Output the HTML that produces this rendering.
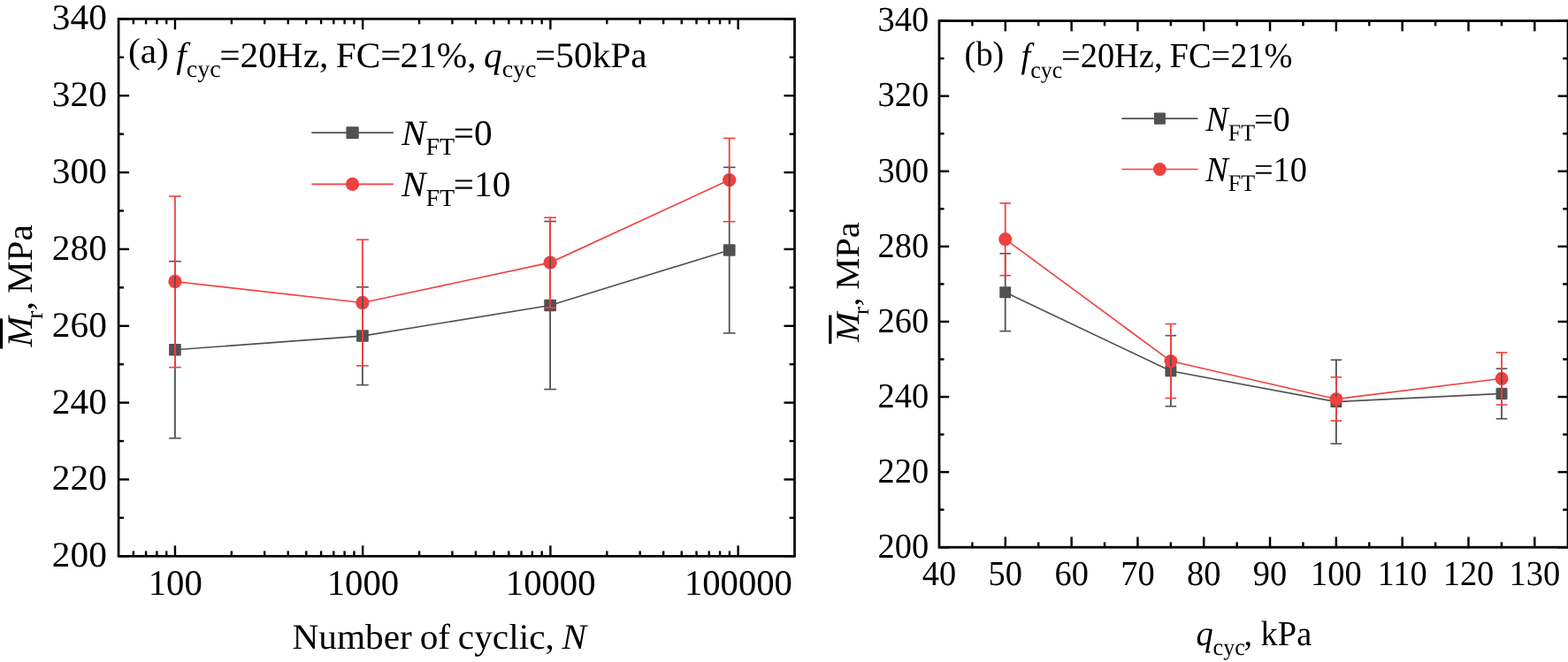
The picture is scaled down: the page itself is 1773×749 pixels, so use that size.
<!DOCTYPE html>
<html lang="en">
<head>
<meta charset="utf-8">
<title>Resilient modulus charts</title>
<style>
html,body{margin:0;padding:0;background:#fff;}
body{width:1773px;height:749px;overflow:hidden;}
svg{display:block;}
text{font-family:'Liberation Serif', serif;fill:#000;white-space:pre;text-rendering:geometricPrecision;}
</style>
</head>
<body>
<svg width="1773" height="749" viewBox="0 0 1773 749">
<rect width="1773" height="749" fill="#fff"/>
<polyline fill="none" stroke="#515151" stroke-width="1.65" points="197.90,395.75 409.90,380.10 622.10,345.50 824.70,283.00"/>
<rect x="191.05" y="389.00" width="13.70" height="13.50" rx="0.8" fill="#515151"/>
<rect x="403.05" y="373.35" width="13.70" height="13.50" rx="0.8" fill="#515151"/>
<rect x="615.25" y="338.75" width="13.70" height="13.50" rx="0.8" fill="#515151"/>
<rect x="817.85" y="276.25" width="13.70" height="13.50" rx="0.8" fill="#515151"/>
<polyline fill="none" stroke="#F14040" stroke-width="1.65" points="197.90,318.50 409.90,342.50 622.10,297.10 824.70,203.60"/>
<ellipse cx="197.90" cy="318.50" rx="7.65" ry="7.65" fill="#F14040"/>
<ellipse cx="409.90" cy="342.50" rx="7.65" ry="7.65" fill="#F14040"/>
<ellipse cx="622.10" cy="297.10" rx="7.65" ry="7.65" fill="#F14040"/>
<ellipse cx="824.70" cy="203.60" rx="7.65" ry="7.65" fill="#F14040"/>
<line x1="197.90" y1="295.70" x2="197.90" y2="390.00" stroke="#515151" stroke-width="1.8" stroke-linecap="butt"/>
<line x1="197.90" y1="401.50" x2="197.90" y2="495.80" stroke="#515151" stroke-width="1.8" stroke-linecap="butt"/>
<line x1="191.05" y1="295.70" x2="204.75" y2="295.70" stroke="#515151" stroke-width="1.6" stroke-linecap="butt"/>
<line x1="191.05" y1="495.80" x2="204.75" y2="495.80" stroke="#515151" stroke-width="1.6" stroke-linecap="butt"/>
<line x1="409.90" y1="324.80" x2="409.90" y2="374.35" stroke="#515151" stroke-width="1.8" stroke-linecap="butt"/>
<line x1="409.90" y1="385.85" x2="409.90" y2="435.60" stroke="#515151" stroke-width="1.8" stroke-linecap="butt"/>
<line x1="403.05" y1="324.80" x2="416.75" y2="324.80" stroke="#515151" stroke-width="1.6" stroke-linecap="butt"/>
<line x1="403.05" y1="435.60" x2="416.75" y2="435.60" stroke="#515151" stroke-width="1.6" stroke-linecap="butt"/>
<line x1="622.10" y1="250.50" x2="622.10" y2="339.75" stroke="#515151" stroke-width="1.8" stroke-linecap="butt"/>
<line x1="622.10" y1="351.25" x2="622.10" y2="440.50" stroke="#515151" stroke-width="1.8" stroke-linecap="butt"/>
<line x1="615.25" y1="250.50" x2="628.95" y2="250.50" stroke="#515151" stroke-width="1.6" stroke-linecap="butt"/>
<line x1="615.25" y1="440.50" x2="628.95" y2="440.50" stroke="#515151" stroke-width="1.6" stroke-linecap="butt"/>
<line x1="824.70" y1="189.30" x2="824.70" y2="277.25" stroke="#515151" stroke-width="1.8" stroke-linecap="butt"/>
<line x1="824.70" y1="288.75" x2="824.70" y2="376.90" stroke="#515151" stroke-width="1.8" stroke-linecap="butt"/>
<line x1="817.85" y1="189.30" x2="831.55" y2="189.30" stroke="#515151" stroke-width="1.6" stroke-linecap="butt"/>
<line x1="817.85" y1="376.90" x2="831.55" y2="376.90" stroke="#515151" stroke-width="1.6" stroke-linecap="butt"/>
<line x1="197.90" y1="222.00" x2="197.90" y2="311.85" stroke="#F14040" stroke-width="1.8" stroke-linecap="butt"/>
<line x1="197.90" y1="325.15" x2="197.90" y2="415.60" stroke="#F14040" stroke-width="1.8" stroke-linecap="butt"/>
<line x1="191.05" y1="222.00" x2="204.75" y2="222.00" stroke="#F14040" stroke-width="1.6" stroke-linecap="butt"/>
<line x1="191.05" y1="415.60" x2="204.75" y2="415.60" stroke="#F14040" stroke-width="1.6" stroke-linecap="butt"/>
<line x1="409.90" y1="271.20" x2="409.90" y2="335.85" stroke="#F14040" stroke-width="1.8" stroke-linecap="butt"/>
<line x1="409.90" y1="349.15" x2="409.90" y2="413.80" stroke="#F14040" stroke-width="1.8" stroke-linecap="butt"/>
<line x1="403.05" y1="271.20" x2="416.75" y2="271.20" stroke="#F14040" stroke-width="1.6" stroke-linecap="butt"/>
<line x1="403.05" y1="413.80" x2="416.75" y2="413.80" stroke="#F14040" stroke-width="1.6" stroke-linecap="butt"/>
<line x1="622.10" y1="246.20" x2="622.10" y2="290.45" stroke="#F14040" stroke-width="1.8" stroke-linecap="butt"/>
<line x1="622.10" y1="303.75" x2="622.10" y2="348.20" stroke="#F14040" stroke-width="1.8" stroke-linecap="butt"/>
<line x1="615.25" y1="246.20" x2="628.95" y2="246.20" stroke="#F14040" stroke-width="1.6" stroke-linecap="butt"/>
<line x1="615.25" y1="348.20" x2="628.95" y2="348.20" stroke="#F14040" stroke-width="1.6" stroke-linecap="butt"/>
<line x1="824.70" y1="156.40" x2="824.70" y2="196.95" stroke="#F14040" stroke-width="1.8" stroke-linecap="butt"/>
<line x1="824.70" y1="210.25" x2="824.70" y2="250.70" stroke="#F14040" stroke-width="1.8" stroke-linecap="butt"/>
<line x1="817.85" y1="156.40" x2="831.55" y2="156.40" stroke="#F14040" stroke-width="1.6" stroke-linecap="butt"/>
<line x1="817.85" y1="250.70" x2="831.55" y2="250.70" stroke="#F14040" stroke-width="1.6" stroke-linecap="butt"/>
<line x1="134.05" y1="629.30" x2="146.05" y2="629.30" stroke="#000" stroke-width="2.4" stroke-linecap="butt"/>
<line x1="898.50" y1="629.30" x2="886.50" y2="629.30" stroke="#000" stroke-width="2.4" stroke-linecap="butt"/>
<line x1="134.05" y1="585.88" x2="139.95" y2="585.88" stroke="#000" stroke-width="2.4" stroke-linecap="butt"/>
<line x1="898.50" y1="585.88" x2="892.60" y2="585.88" stroke="#000" stroke-width="2.4" stroke-linecap="butt"/>
<line x1="134.05" y1="542.46" x2="146.05" y2="542.46" stroke="#000" stroke-width="2.4" stroke-linecap="butt"/>
<line x1="898.50" y1="542.46" x2="886.50" y2="542.46" stroke="#000" stroke-width="2.4" stroke-linecap="butt"/>
<line x1="134.05" y1="499.04" x2="139.95" y2="499.04" stroke="#000" stroke-width="2.4" stroke-linecap="butt"/>
<line x1="898.50" y1="499.04" x2="892.60" y2="499.04" stroke="#000" stroke-width="2.4" stroke-linecap="butt"/>
<line x1="134.05" y1="455.61" x2="146.05" y2="455.61" stroke="#000" stroke-width="2.4" stroke-linecap="butt"/>
<line x1="898.50" y1="455.61" x2="886.50" y2="455.61" stroke="#000" stroke-width="2.4" stroke-linecap="butt"/>
<line x1="134.05" y1="412.19" x2="139.95" y2="412.19" stroke="#000" stroke-width="2.4" stroke-linecap="butt"/>
<line x1="898.50" y1="412.19" x2="892.60" y2="412.19" stroke="#000" stroke-width="2.4" stroke-linecap="butt"/>
<line x1="134.05" y1="368.77" x2="146.05" y2="368.77" stroke="#000" stroke-width="2.4" stroke-linecap="butt"/>
<line x1="898.50" y1="368.77" x2="886.50" y2="368.77" stroke="#000" stroke-width="2.4" stroke-linecap="butt"/>
<line x1="134.05" y1="325.35" x2="139.95" y2="325.35" stroke="#000" stroke-width="2.4" stroke-linecap="butt"/>
<line x1="898.50" y1="325.35" x2="892.60" y2="325.35" stroke="#000" stroke-width="2.4" stroke-linecap="butt"/>
<line x1="134.05" y1="281.93" x2="146.05" y2="281.93" stroke="#000" stroke-width="2.4" stroke-linecap="butt"/>
<line x1="898.50" y1="281.93" x2="886.50" y2="281.93" stroke="#000" stroke-width="2.4" stroke-linecap="butt"/>
<line x1="134.05" y1="238.51" x2="139.95" y2="238.51" stroke="#000" stroke-width="2.4" stroke-linecap="butt"/>
<line x1="898.50" y1="238.51" x2="892.60" y2="238.51" stroke="#000" stroke-width="2.4" stroke-linecap="butt"/>
<line x1="134.05" y1="195.09" x2="146.05" y2="195.09" stroke="#000" stroke-width="2.4" stroke-linecap="butt"/>
<line x1="898.50" y1="195.09" x2="886.50" y2="195.09" stroke="#000" stroke-width="2.4" stroke-linecap="butt"/>
<line x1="134.05" y1="151.66" x2="139.95" y2="151.66" stroke="#000" stroke-width="2.4" stroke-linecap="butt"/>
<line x1="898.50" y1="151.66" x2="892.60" y2="151.66" stroke="#000" stroke-width="2.4" stroke-linecap="butt"/>
<line x1="134.05" y1="108.24" x2="146.05" y2="108.24" stroke="#000" stroke-width="2.4" stroke-linecap="butt"/>
<line x1="898.50" y1="108.24" x2="886.50" y2="108.24" stroke="#000" stroke-width="2.4" stroke-linecap="butt"/>
<line x1="134.05" y1="64.82" x2="139.95" y2="64.82" stroke="#000" stroke-width="2.4" stroke-linecap="butt"/>
<line x1="898.50" y1="64.82" x2="892.60" y2="64.82" stroke="#000" stroke-width="2.4" stroke-linecap="butt"/>
<line x1="134.05" y1="21.40" x2="146.05" y2="21.40" stroke="#000" stroke-width="2.4" stroke-linecap="butt"/>
<line x1="898.50" y1="21.40" x2="886.50" y2="21.40" stroke="#000" stroke-width="2.4" stroke-linecap="butt"/>
<line x1="150.85" y1="629.30" x2="150.85" y2="623.40" stroke="#000" stroke-width="2.4" stroke-linecap="butt"/>
<line x1="150.85" y1="21.40" x2="150.85" y2="27.30" stroke="#000" stroke-width="2.4" stroke-linecap="butt"/>
<line x1="165.06" y1="629.30" x2="165.06" y2="623.40" stroke="#000" stroke-width="2.4" stroke-linecap="butt"/>
<line x1="165.06" y1="21.40" x2="165.06" y2="27.30" stroke="#000" stroke-width="2.4" stroke-linecap="butt"/>
<line x1="177.37" y1="629.30" x2="177.37" y2="623.40" stroke="#000" stroke-width="2.4" stroke-linecap="butt"/>
<line x1="177.37" y1="21.40" x2="177.37" y2="27.30" stroke="#000" stroke-width="2.4" stroke-linecap="butt"/>
<line x1="188.23" y1="629.30" x2="188.23" y2="623.40" stroke="#000" stroke-width="2.4" stroke-linecap="butt"/>
<line x1="188.23" y1="21.40" x2="188.23" y2="27.30" stroke="#000" stroke-width="2.4" stroke-linecap="butt"/>
<line x1="197.94" y1="629.30" x2="197.94" y2="617.30" stroke="#000" stroke-width="2.4" stroke-linecap="butt"/>
<line x1="197.94" y1="21.40" x2="197.94" y2="33.40" stroke="#000" stroke-width="2.4" stroke-linecap="butt"/>
<line x1="261.82" y1="629.30" x2="261.82" y2="623.40" stroke="#000" stroke-width="2.4" stroke-linecap="butt"/>
<line x1="261.82" y1="21.40" x2="261.82" y2="27.30" stroke="#000" stroke-width="2.4" stroke-linecap="butt"/>
<line x1="299.19" y1="629.30" x2="299.19" y2="623.40" stroke="#000" stroke-width="2.4" stroke-linecap="butt"/>
<line x1="299.19" y1="21.40" x2="299.19" y2="27.30" stroke="#000" stroke-width="2.4" stroke-linecap="butt"/>
<line x1="325.71" y1="629.30" x2="325.71" y2="623.40" stroke="#000" stroke-width="2.4" stroke-linecap="butt"/>
<line x1="325.71" y1="21.40" x2="325.71" y2="27.30" stroke="#000" stroke-width="2.4" stroke-linecap="butt"/>
<line x1="346.28" y1="629.30" x2="346.28" y2="623.40" stroke="#000" stroke-width="2.4" stroke-linecap="butt"/>
<line x1="346.28" y1="21.40" x2="346.28" y2="27.30" stroke="#000" stroke-width="2.4" stroke-linecap="butt"/>
<line x1="363.08" y1="629.30" x2="363.08" y2="623.40" stroke="#000" stroke-width="2.4" stroke-linecap="butt"/>
<line x1="363.08" y1="21.40" x2="363.08" y2="27.30" stroke="#000" stroke-width="2.4" stroke-linecap="butt"/>
<line x1="377.29" y1="629.30" x2="377.29" y2="623.40" stroke="#000" stroke-width="2.4" stroke-linecap="butt"/>
<line x1="377.29" y1="21.40" x2="377.29" y2="27.30" stroke="#000" stroke-width="2.4" stroke-linecap="butt"/>
<line x1="389.60" y1="629.30" x2="389.60" y2="623.40" stroke="#000" stroke-width="2.4" stroke-linecap="butt"/>
<line x1="389.60" y1="21.40" x2="389.60" y2="27.30" stroke="#000" stroke-width="2.4" stroke-linecap="butt"/>
<line x1="400.45" y1="629.30" x2="400.45" y2="623.40" stroke="#000" stroke-width="2.4" stroke-linecap="butt"/>
<line x1="400.45" y1="21.40" x2="400.45" y2="27.30" stroke="#000" stroke-width="2.4" stroke-linecap="butt"/>
<line x1="410.16" y1="629.30" x2="410.16" y2="617.30" stroke="#000" stroke-width="2.4" stroke-linecap="butt"/>
<line x1="410.16" y1="21.40" x2="410.16" y2="33.40" stroke="#000" stroke-width="2.4" stroke-linecap="butt"/>
<line x1="474.05" y1="629.30" x2="474.05" y2="623.40" stroke="#000" stroke-width="2.4" stroke-linecap="butt"/>
<line x1="474.05" y1="21.40" x2="474.05" y2="27.30" stroke="#000" stroke-width="2.4" stroke-linecap="butt"/>
<line x1="511.42" y1="629.30" x2="511.42" y2="623.40" stroke="#000" stroke-width="2.4" stroke-linecap="butt"/>
<line x1="511.42" y1="21.40" x2="511.42" y2="27.30" stroke="#000" stroke-width="2.4" stroke-linecap="butt"/>
<line x1="537.93" y1="629.30" x2="537.93" y2="623.40" stroke="#000" stroke-width="2.4" stroke-linecap="butt"/>
<line x1="537.93" y1="21.40" x2="537.93" y2="27.30" stroke="#000" stroke-width="2.4" stroke-linecap="butt"/>
<line x1="558.50" y1="629.30" x2="558.50" y2="623.40" stroke="#000" stroke-width="2.4" stroke-linecap="butt"/>
<line x1="558.50" y1="21.40" x2="558.50" y2="27.30" stroke="#000" stroke-width="2.4" stroke-linecap="butt"/>
<line x1="575.31" y1="629.30" x2="575.31" y2="623.40" stroke="#000" stroke-width="2.4" stroke-linecap="butt"/>
<line x1="575.31" y1="21.40" x2="575.31" y2="27.30" stroke="#000" stroke-width="2.4" stroke-linecap="butt"/>
<line x1="589.51" y1="629.30" x2="589.51" y2="623.40" stroke="#000" stroke-width="2.4" stroke-linecap="butt"/>
<line x1="589.51" y1="21.40" x2="589.51" y2="27.30" stroke="#000" stroke-width="2.4" stroke-linecap="butt"/>
<line x1="601.82" y1="629.30" x2="601.82" y2="623.40" stroke="#000" stroke-width="2.4" stroke-linecap="butt"/>
<line x1="601.82" y1="21.40" x2="601.82" y2="27.30" stroke="#000" stroke-width="2.4" stroke-linecap="butt"/>
<line x1="612.68" y1="629.30" x2="612.68" y2="623.40" stroke="#000" stroke-width="2.4" stroke-linecap="butt"/>
<line x1="612.68" y1="21.40" x2="612.68" y2="27.30" stroke="#000" stroke-width="2.4" stroke-linecap="butt"/>
<line x1="622.39" y1="629.30" x2="622.39" y2="617.30" stroke="#000" stroke-width="2.4" stroke-linecap="butt"/>
<line x1="622.39" y1="21.40" x2="622.39" y2="33.40" stroke="#000" stroke-width="2.4" stroke-linecap="butt"/>
<line x1="686.27" y1="629.30" x2="686.27" y2="623.40" stroke="#000" stroke-width="2.4" stroke-linecap="butt"/>
<line x1="686.27" y1="21.40" x2="686.27" y2="27.30" stroke="#000" stroke-width="2.4" stroke-linecap="butt"/>
<line x1="723.65" y1="629.30" x2="723.65" y2="623.40" stroke="#000" stroke-width="2.4" stroke-linecap="butt"/>
<line x1="723.65" y1="21.40" x2="723.65" y2="27.30" stroke="#000" stroke-width="2.4" stroke-linecap="butt"/>
<line x1="750.16" y1="629.30" x2="750.16" y2="623.40" stroke="#000" stroke-width="2.4" stroke-linecap="butt"/>
<line x1="750.16" y1="21.40" x2="750.16" y2="27.30" stroke="#000" stroke-width="2.4" stroke-linecap="butt"/>
<line x1="770.73" y1="629.30" x2="770.73" y2="623.40" stroke="#000" stroke-width="2.4" stroke-linecap="butt"/>
<line x1="770.73" y1="21.40" x2="770.73" y2="27.30" stroke="#000" stroke-width="2.4" stroke-linecap="butt"/>
<line x1="787.53" y1="629.30" x2="787.53" y2="623.40" stroke="#000" stroke-width="2.4" stroke-linecap="butt"/>
<line x1="787.53" y1="21.40" x2="787.53" y2="27.30" stroke="#000" stroke-width="2.4" stroke-linecap="butt"/>
<line x1="801.74" y1="629.30" x2="801.74" y2="623.40" stroke="#000" stroke-width="2.4" stroke-linecap="butt"/>
<line x1="801.74" y1="21.40" x2="801.74" y2="27.30" stroke="#000" stroke-width="2.4" stroke-linecap="butt"/>
<line x1="814.05" y1="629.30" x2="814.05" y2="623.40" stroke="#000" stroke-width="2.4" stroke-linecap="butt"/>
<line x1="814.05" y1="21.40" x2="814.05" y2="27.30" stroke="#000" stroke-width="2.4" stroke-linecap="butt"/>
<line x1="824.90" y1="629.30" x2="824.90" y2="623.40" stroke="#000" stroke-width="2.4" stroke-linecap="butt"/>
<line x1="824.90" y1="21.40" x2="824.90" y2="27.30" stroke="#000" stroke-width="2.4" stroke-linecap="butt"/>
<line x1="834.61" y1="629.30" x2="834.61" y2="617.30" stroke="#000" stroke-width="2.4" stroke-linecap="butt"/>
<line x1="834.61" y1="21.40" x2="834.61" y2="33.40" stroke="#000" stroke-width="2.4" stroke-linecap="butt"/>
<rect x="134.05" y="21.40" width="764.45" height="607.90" fill="none" stroke="#000" stroke-width="2.7"/>
<text transform="translate(120.80,641.30) scale(1.0000,0.9800)" font-size="41.3" text-anchor="end">200</text>
<text transform="translate(120.80,554.46) scale(1.0000,0.9800)" font-size="41.3" text-anchor="end">220</text>
<text transform="translate(120.80,467.61) scale(1.0000,0.9800)" font-size="41.3" text-anchor="end">240</text>
<text transform="translate(120.80,380.77) scale(1.0000,0.9800)" font-size="41.3" text-anchor="end">260</text>
<text transform="translate(120.80,293.93) scale(1.0000,0.9800)" font-size="41.3" text-anchor="end">280</text>
<text transform="translate(120.80,207.09) scale(1.0000,0.9800)" font-size="41.3" text-anchor="end">300</text>
<text transform="translate(120.80,120.24) scale(1.0000,0.9800)" font-size="41.3" text-anchor="end">320</text>
<text transform="translate(120.80,33.40) scale(1.0000,0.9800)" font-size="41.3" text-anchor="end">340</text>
<text transform="translate(198.24,673.10) scale(0.9850,0.9800)" font-size="41.3" text-anchor="middle">100</text>
<text transform="translate(410.46,673.10) scale(0.9850,0.9800)" font-size="41.3" text-anchor="middle">1000</text>
<text transform="translate(622.69,673.10) scale(0.9850,0.9800)" font-size="41.3" text-anchor="middle">10000</text>
<text transform="translate(834.91,673.10) scale(0.9850,0.9800)" font-size="41.3" text-anchor="middle">100000</text>
<text transform="translate(145.00,75.80) scale(1.0000,0.9800)" font-size="41.3" text-anchor="start" word-spacing="-1.9"><tspan dy="-5.00">(a)</tspan><tspan dy="5.00"> </tspan><tspan font-style="italic">f</tspan><tspan font-size="28.0" dy="11.80">cyc</tspan><tspan dy="-11.80" dx="-1.4">=20Hz, FC=</tspan><tspan dx="-1.0">21%, </tspan><tspan font-style="italic">q</tspan><tspan font-size="28.0" dy="11.80">cyc</tspan><tspan dy="-11.80" dx="-1.4">=50kPa</tspan></text>
<text transform="translate(330.50,734.10) scale(1.0000,0.9800)" font-size="41.3" text-anchor="start" word-spacing="-1.5">Number of cyclic, <tspan font-style="italic">N</tspan></text>
<text transform="translate(36.45,392.50) rotate(-90) scale(1.0000,0.9800)" font-size="41.3" text-anchor="start" word-spacing="-1.6"><tspan font-style="italic">M</tspan><tspan font-size="28.0" dy="11.80" dx="-3">r</tspan><tspan dy="-11.80" dx="0.6">, MPa</tspan></text>
<text transform="translate(454.00,163.60) scale(1.0000,0.9800)" font-size="41.3" text-anchor="start"><tspan font-style="italic">N</tspan><tspan font-size="28.0" dy="11.80">FT</tspan><tspan dy="-11.80" dx="-1.4">=0</tspan></text>
<text transform="translate(454.00,221.90) scale(1.0000,0.9800)" font-size="41.3" text-anchor="start"><tspan font-style="italic">N</tspan><tspan font-size="28.0" dy="11.80">FT</tspan><tspan dy="-11.80" dx="-1.4">=10</tspan></text>
<line x1="352.30" y1="150.15" x2="444.90" y2="150.15" stroke="#515151" stroke-width="1.65" stroke-linecap="butt"/>
<rect x="391.40" y="143.25" width="14.30" height="13.80" rx="0.8" fill="#515151"/>
<line x1="352.30" y1="208.40" x2="444.90" y2="208.40" stroke="#F14040" stroke-width="1.65" stroke-linecap="butt"/>
<ellipse cx="398.55" cy="208.40" rx="7.65" ry="7.65" fill="#F14040"/>
<rect x="-0.20" y="360.40" width="3.30" height="34.10" fill="#000"/>
<polyline fill="none" stroke="#515151" stroke-width="1.65" points="1136.70,330.70 1323.90,419.75 1510.90,454.55 1698.00,445.40"/>
<rect x="1130.25" y="324.15" width="12.90" height="13.10" rx="0.8" fill="#515151"/>
<rect x="1317.45" y="413.20" width="12.90" height="13.10" rx="0.8" fill="#515151"/>
<rect x="1504.45" y="448.00" width="12.90" height="13.10" rx="0.8" fill="#515151"/>
<rect x="1691.55" y="438.85" width="12.90" height="13.10" rx="0.8" fill="#515151"/>
<polyline fill="none" stroke="#F14040" stroke-width="1.65" points="1136.70,270.70 1323.90,408.55 1510.90,451.50 1698.00,428.30"/>
<ellipse cx="1136.70" cy="270.70" rx="7.45" ry="7.60" fill="#F14040"/>
<ellipse cx="1323.90" cy="408.55" rx="7.45" ry="7.60" fill="#F14040"/>
<ellipse cx="1510.90" cy="451.50" rx="7.45" ry="7.60" fill="#F14040"/>
<ellipse cx="1698.00" cy="428.30" rx="7.45" ry="7.60" fill="#F14040"/>
<line x1="1136.70" y1="286.85" x2="1136.70" y2="325.15" stroke="#515151" stroke-width="1.8" stroke-linecap="butt"/>
<line x1="1136.70" y1="336.25" x2="1136.70" y2="374.65" stroke="#515151" stroke-width="1.8" stroke-linecap="butt"/>
<line x1="1130.40" y1="286.85" x2="1143.00" y2="286.85" stroke="#515151" stroke-width="1.6" stroke-linecap="butt"/>
<line x1="1130.40" y1="374.65" x2="1143.00" y2="374.65" stroke="#515151" stroke-width="1.6" stroke-linecap="butt"/>
<line x1="1323.90" y1="379.70" x2="1323.90" y2="414.20" stroke="#515151" stroke-width="1.8" stroke-linecap="butt"/>
<line x1="1323.90" y1="425.30" x2="1323.90" y2="459.70" stroke="#515151" stroke-width="1.8" stroke-linecap="butt"/>
<line x1="1317.60" y1="379.70" x2="1330.20" y2="379.70" stroke="#515151" stroke-width="1.6" stroke-linecap="butt"/>
<line x1="1317.60" y1="459.70" x2="1330.20" y2="459.70" stroke="#515151" stroke-width="1.6" stroke-linecap="butt"/>
<line x1="1510.90" y1="407.20" x2="1510.90" y2="449.00" stroke="#515151" stroke-width="1.8" stroke-linecap="butt"/>
<line x1="1510.90" y1="460.10" x2="1510.90" y2="502.00" stroke="#515151" stroke-width="1.8" stroke-linecap="butt"/>
<line x1="1504.60" y1="407.20" x2="1517.20" y2="407.20" stroke="#515151" stroke-width="1.6" stroke-linecap="butt"/>
<line x1="1504.60" y1="502.00" x2="1517.20" y2="502.00" stroke="#515151" stroke-width="1.6" stroke-linecap="butt"/>
<line x1="1698.00" y1="417.10" x2="1698.00" y2="439.85" stroke="#515151" stroke-width="1.8" stroke-linecap="butt"/>
<line x1="1698.00" y1="450.95" x2="1698.00" y2="473.80" stroke="#515151" stroke-width="1.8" stroke-linecap="butt"/>
<line x1="1691.70" y1="417.10" x2="1704.30" y2="417.10" stroke="#515151" stroke-width="1.6" stroke-linecap="butt"/>
<line x1="1691.70" y1="473.80" x2="1704.30" y2="473.80" stroke="#515151" stroke-width="1.6" stroke-linecap="butt"/>
<line x1="1136.70" y1="229.90" x2="1136.70" y2="264.10" stroke="#F14040" stroke-width="1.8" stroke-linecap="butt"/>
<line x1="1136.70" y1="277.30" x2="1136.70" y2="311.70" stroke="#F14040" stroke-width="1.8" stroke-linecap="butt"/>
<line x1="1130.40" y1="229.90" x2="1143.00" y2="229.90" stroke="#F14040" stroke-width="1.6" stroke-linecap="butt"/>
<line x1="1130.40" y1="311.70" x2="1143.00" y2="311.70" stroke="#F14040" stroke-width="1.6" stroke-linecap="butt"/>
<line x1="1323.90" y1="366.50" x2="1323.90" y2="401.95" stroke="#F14040" stroke-width="1.8" stroke-linecap="butt"/>
<line x1="1323.90" y1="415.15" x2="1323.90" y2="450.50" stroke="#F14040" stroke-width="1.8" stroke-linecap="butt"/>
<line x1="1317.60" y1="366.50" x2="1330.20" y2="366.50" stroke="#F14040" stroke-width="1.6" stroke-linecap="butt"/>
<line x1="1317.60" y1="450.50" x2="1330.20" y2="450.50" stroke="#F14040" stroke-width="1.6" stroke-linecap="butt"/>
<line x1="1510.90" y1="426.70" x2="1510.90" y2="444.90" stroke="#F14040" stroke-width="1.8" stroke-linecap="butt"/>
<line x1="1510.90" y1="458.10" x2="1510.90" y2="476.15" stroke="#F14040" stroke-width="1.8" stroke-linecap="butt"/>
<line x1="1504.60" y1="426.70" x2="1517.20" y2="426.70" stroke="#F14040" stroke-width="1.6" stroke-linecap="butt"/>
<line x1="1504.60" y1="476.15" x2="1517.20" y2="476.15" stroke="#F14040" stroke-width="1.6" stroke-linecap="butt"/>
<line x1="1698.00" y1="398.90" x2="1698.00" y2="421.70" stroke="#F14040" stroke-width="1.8" stroke-linecap="butt"/>
<line x1="1698.00" y1="434.90" x2="1698.00" y2="458.00" stroke="#F14040" stroke-width="1.8" stroke-linecap="butt"/>
<line x1="1691.70" y1="398.90" x2="1704.30" y2="398.90" stroke="#F14040" stroke-width="1.6" stroke-linecap="butt"/>
<line x1="1691.70" y1="458.00" x2="1704.30" y2="458.00" stroke="#F14040" stroke-width="1.6" stroke-linecap="butt"/>
<line x1="1062.00" y1="619.20" x2="1073.16" y2="619.20" stroke="#000" stroke-width="2.45" stroke-linecap="butt"/>
<line x1="1772.70" y1="619.20" x2="1761.54" y2="619.20" stroke="#000" stroke-width="2.45" stroke-linecap="butt"/>
<line x1="1062.00" y1="576.66" x2="1067.49" y2="576.66" stroke="#000" stroke-width="2.45" stroke-linecap="butt"/>
<line x1="1772.70" y1="576.66" x2="1767.21" y2="576.66" stroke="#000" stroke-width="2.45" stroke-linecap="butt"/>
<line x1="1062.00" y1="534.11" x2="1073.16" y2="534.11" stroke="#000" stroke-width="2.45" stroke-linecap="butt"/>
<line x1="1772.70" y1="534.11" x2="1761.54" y2="534.11" stroke="#000" stroke-width="2.45" stroke-linecap="butt"/>
<line x1="1062.00" y1="491.57" x2="1067.49" y2="491.57" stroke="#000" stroke-width="2.45" stroke-linecap="butt"/>
<line x1="1772.70" y1="491.57" x2="1767.21" y2="491.57" stroke="#000" stroke-width="2.45" stroke-linecap="butt"/>
<line x1="1062.00" y1="449.03" x2="1073.16" y2="449.03" stroke="#000" stroke-width="2.45" stroke-linecap="butt"/>
<line x1="1772.70" y1="449.03" x2="1761.54" y2="449.03" stroke="#000" stroke-width="2.45" stroke-linecap="butt"/>
<line x1="1062.00" y1="406.49" x2="1067.49" y2="406.49" stroke="#000" stroke-width="2.45" stroke-linecap="butt"/>
<line x1="1772.70" y1="406.49" x2="1767.21" y2="406.49" stroke="#000" stroke-width="2.45" stroke-linecap="butt"/>
<line x1="1062.00" y1="363.94" x2="1073.16" y2="363.94" stroke="#000" stroke-width="2.45" stroke-linecap="butt"/>
<line x1="1772.70" y1="363.94" x2="1761.54" y2="363.94" stroke="#000" stroke-width="2.45" stroke-linecap="butt"/>
<line x1="1062.00" y1="321.40" x2="1067.49" y2="321.40" stroke="#000" stroke-width="2.45" stroke-linecap="butt"/>
<line x1="1772.70" y1="321.40" x2="1767.21" y2="321.40" stroke="#000" stroke-width="2.45" stroke-linecap="butt"/>
<line x1="1062.00" y1="278.86" x2="1073.16" y2="278.86" stroke="#000" stroke-width="2.45" stroke-linecap="butt"/>
<line x1="1772.70" y1="278.86" x2="1761.54" y2="278.86" stroke="#000" stroke-width="2.45" stroke-linecap="butt"/>
<line x1="1062.00" y1="236.31" x2="1067.49" y2="236.31" stroke="#000" stroke-width="2.45" stroke-linecap="butt"/>
<line x1="1772.70" y1="236.31" x2="1767.21" y2="236.31" stroke="#000" stroke-width="2.45" stroke-linecap="butt"/>
<line x1="1062.00" y1="193.77" x2="1073.16" y2="193.77" stroke="#000" stroke-width="2.45" stroke-linecap="butt"/>
<line x1="1772.70" y1="193.77" x2="1761.54" y2="193.77" stroke="#000" stroke-width="2.45" stroke-linecap="butt"/>
<line x1="1062.00" y1="151.23" x2="1067.49" y2="151.23" stroke="#000" stroke-width="2.45" stroke-linecap="butt"/>
<line x1="1772.70" y1="151.23" x2="1767.21" y2="151.23" stroke="#000" stroke-width="2.45" stroke-linecap="butt"/>
<line x1="1062.00" y1="108.69" x2="1073.16" y2="108.69" stroke="#000" stroke-width="2.45" stroke-linecap="butt"/>
<line x1="1772.70" y1="108.69" x2="1761.54" y2="108.69" stroke="#000" stroke-width="2.45" stroke-linecap="butt"/>
<line x1="1062.00" y1="66.14" x2="1067.49" y2="66.14" stroke="#000" stroke-width="2.45" stroke-linecap="butt"/>
<line x1="1772.70" y1="66.14" x2="1767.21" y2="66.14" stroke="#000" stroke-width="2.45" stroke-linecap="butt"/>
<line x1="1062.00" y1="23.60" x2="1073.16" y2="23.60" stroke="#000" stroke-width="2.45" stroke-linecap="butt"/>
<line x1="1772.70" y1="23.60" x2="1761.54" y2="23.60" stroke="#000" stroke-width="2.45" stroke-linecap="butt"/>
<line x1="1099.41" y1="619.20" x2="1099.41" y2="613.42" stroke="#000" stroke-width="2.45" stroke-linecap="butt"/>
<line x1="1099.41" y1="23.60" x2="1099.41" y2="29.38" stroke="#000" stroke-width="2.45" stroke-linecap="butt"/>
<line x1="1136.81" y1="619.20" x2="1136.81" y2="607.44" stroke="#000" stroke-width="2.45" stroke-linecap="butt"/>
<line x1="1136.81" y1="23.60" x2="1136.81" y2="35.36" stroke="#000" stroke-width="2.45" stroke-linecap="butt"/>
<line x1="1174.22" y1="619.20" x2="1174.22" y2="613.42" stroke="#000" stroke-width="2.45" stroke-linecap="butt"/>
<line x1="1174.22" y1="23.60" x2="1174.22" y2="29.38" stroke="#000" stroke-width="2.45" stroke-linecap="butt"/>
<line x1="1211.62" y1="619.20" x2="1211.62" y2="607.44" stroke="#000" stroke-width="2.45" stroke-linecap="butt"/>
<line x1="1211.62" y1="23.60" x2="1211.62" y2="35.36" stroke="#000" stroke-width="2.45" stroke-linecap="butt"/>
<line x1="1249.03" y1="619.20" x2="1249.03" y2="613.42" stroke="#000" stroke-width="2.45" stroke-linecap="butt"/>
<line x1="1249.03" y1="23.60" x2="1249.03" y2="29.38" stroke="#000" stroke-width="2.45" stroke-linecap="butt"/>
<line x1="1286.43" y1="619.20" x2="1286.43" y2="607.44" stroke="#000" stroke-width="2.45" stroke-linecap="butt"/>
<line x1="1286.43" y1="23.60" x2="1286.43" y2="35.36" stroke="#000" stroke-width="2.45" stroke-linecap="butt"/>
<line x1="1323.84" y1="619.20" x2="1323.84" y2="613.42" stroke="#000" stroke-width="2.45" stroke-linecap="butt"/>
<line x1="1323.84" y1="23.60" x2="1323.84" y2="29.38" stroke="#000" stroke-width="2.45" stroke-linecap="butt"/>
<line x1="1361.24" y1="619.20" x2="1361.24" y2="607.44" stroke="#000" stroke-width="2.45" stroke-linecap="butt"/>
<line x1="1361.24" y1="23.60" x2="1361.24" y2="35.36" stroke="#000" stroke-width="2.45" stroke-linecap="butt"/>
<line x1="1398.65" y1="619.20" x2="1398.65" y2="613.42" stroke="#000" stroke-width="2.45" stroke-linecap="butt"/>
<line x1="1398.65" y1="23.60" x2="1398.65" y2="29.38" stroke="#000" stroke-width="2.45" stroke-linecap="butt"/>
<line x1="1436.05" y1="619.20" x2="1436.05" y2="607.44" stroke="#000" stroke-width="2.45" stroke-linecap="butt"/>
<line x1="1436.05" y1="23.60" x2="1436.05" y2="35.36" stroke="#000" stroke-width="2.45" stroke-linecap="butt"/>
<line x1="1473.46" y1="619.20" x2="1473.46" y2="613.42" stroke="#000" stroke-width="2.45" stroke-linecap="butt"/>
<line x1="1473.46" y1="23.60" x2="1473.46" y2="29.38" stroke="#000" stroke-width="2.45" stroke-linecap="butt"/>
<line x1="1510.86" y1="619.20" x2="1510.86" y2="607.44" stroke="#000" stroke-width="2.45" stroke-linecap="butt"/>
<line x1="1510.86" y1="23.60" x2="1510.86" y2="35.36" stroke="#000" stroke-width="2.45" stroke-linecap="butt"/>
<line x1="1548.27" y1="619.20" x2="1548.27" y2="613.42" stroke="#000" stroke-width="2.45" stroke-linecap="butt"/>
<line x1="1548.27" y1="23.60" x2="1548.27" y2="29.38" stroke="#000" stroke-width="2.45" stroke-linecap="butt"/>
<line x1="1585.67" y1="619.20" x2="1585.67" y2="607.44" stroke="#000" stroke-width="2.45" stroke-linecap="butt"/>
<line x1="1585.67" y1="23.60" x2="1585.67" y2="35.36" stroke="#000" stroke-width="2.45" stroke-linecap="butt"/>
<line x1="1623.08" y1="619.20" x2="1623.08" y2="613.42" stroke="#000" stroke-width="2.45" stroke-linecap="butt"/>
<line x1="1623.08" y1="23.60" x2="1623.08" y2="29.38" stroke="#000" stroke-width="2.45" stroke-linecap="butt"/>
<line x1="1660.48" y1="619.20" x2="1660.48" y2="607.44" stroke="#000" stroke-width="2.45" stroke-linecap="butt"/>
<line x1="1660.48" y1="23.60" x2="1660.48" y2="35.36" stroke="#000" stroke-width="2.45" stroke-linecap="butt"/>
<line x1="1697.89" y1="619.20" x2="1697.89" y2="613.42" stroke="#000" stroke-width="2.45" stroke-linecap="butt"/>
<line x1="1697.89" y1="23.60" x2="1697.89" y2="29.38" stroke="#000" stroke-width="2.45" stroke-linecap="butt"/>
<line x1="1735.29" y1="619.20" x2="1735.29" y2="607.44" stroke="#000" stroke-width="2.45" stroke-linecap="butt"/>
<line x1="1735.29" y1="23.60" x2="1735.29" y2="35.36" stroke="#000" stroke-width="2.45" stroke-linecap="butt"/>
<rect x="1062.00" y="23.60" width="711.00" height="595.60" fill="none" stroke="#000" stroke-width="2.8"/>
<text transform="translate(1050.10,630.96) scale(0.9297,0.9602)" font-size="41.3" text-anchor="end">200</text>
<text transform="translate(1050.10,545.87) scale(0.9297,0.9602)" font-size="41.3" text-anchor="end">220</text>
<text transform="translate(1050.10,460.79) scale(0.9297,0.9602)" font-size="41.3" text-anchor="end">240</text>
<text transform="translate(1050.10,375.70) scale(0.9297,0.9602)" font-size="41.3" text-anchor="end">260</text>
<text transform="translate(1050.10,290.62) scale(0.9297,0.9602)" font-size="41.3" text-anchor="end">280</text>
<text transform="translate(1050.10,205.53) scale(0.9297,0.9602)" font-size="41.3" text-anchor="end">300</text>
<text transform="translate(1050.10,120.45) scale(0.9297,0.9602)" font-size="41.3" text-anchor="end">320</text>
<text transform="translate(1050.10,35.36) scale(0.9297,0.9602)" font-size="41.3" text-anchor="end">340</text>
<text transform="translate(1062.00,662.15) scale(0.9297,0.9602)" font-size="41.3" text-anchor="middle">40</text>
<text transform="translate(1136.81,662.15) scale(0.9297,0.9602)" font-size="41.3" text-anchor="middle">50</text>
<text transform="translate(1211.62,662.15) scale(0.9297,0.9602)" font-size="41.3" text-anchor="middle">60</text>
<text transform="translate(1286.43,662.15) scale(0.9297,0.9602)" font-size="41.3" text-anchor="middle">70</text>
<text transform="translate(1361.24,662.15) scale(0.9297,0.9602)" font-size="41.3" text-anchor="middle">80</text>
<text transform="translate(1436.05,662.15) scale(0.9297,0.9602)" font-size="41.3" text-anchor="middle">90</text>
<text transform="translate(1510.86,662.15) scale(0.9297,0.9602)" font-size="41.3" text-anchor="middle">100</text>
<text transform="translate(1585.67,662.15) scale(0.9297,0.9602)" font-size="41.3" text-anchor="middle">110</text>
<text transform="translate(1660.48,662.15) scale(0.9297,0.9602)" font-size="41.3" text-anchor="middle">120</text>
<text transform="translate(1735.29,662.15) scale(0.9297,0.9602)" font-size="41.3" text-anchor="middle">130</text>
<text transform="translate(1090.60,76.25) scale(0.9297,0.9602)" font-size="41.3" text-anchor="start"><tspan dy="-2.50">(b)</tspan><tspan dy="2.50">&#160;&#160;</tspan><tspan font-style="italic">f</tspan><tspan font-size="28.0" dy="11.80">cyc</tspan><tspan dy="-11.80" dx="-1.4">=20Hz, </tspan><tspan dx="-1.6">FC=21%</tspan></text>
<text transform="translate(1417.80,729.95) scale(0.9297,0.9602)" font-size="41.3" text-anchor="middle"><tspan font-style="italic">q</tspan><tspan font-size="28.0" dy="11.80">cyc</tspan><tspan dy="-11.80" dx="-1.4">, kPa</tspan></text>
<text transform="translate(970.90,387.00) rotate(-90) scale(0.9798,0.9111)" font-size="41.3" text-anchor="start" word-spacing="-1.6"><tspan font-style="italic">M</tspan><tspan font-size="28.0" dy="11.80" dx="-3">r</tspan><tspan dy="-11.80" dx="0.6">, MPa</tspan></text>
<text transform="translate(1363.20,147.60) scale(0.9297,0.9602)" font-size="41.3" text-anchor="start"><tspan font-style="italic">N</tspan><tspan font-size="28.0" dy="11.80">FT</tspan><tspan dy="-11.80" dx="-1.4">=0</tspan></text>
<text transform="translate(1363.20,204.90) scale(0.9297,0.9602)" font-size="41.3" text-anchor="start"><tspan font-style="italic">N</tspan><tspan font-size="28.0" dy="11.80">FT</tspan><tspan dy="-11.80" dx="-1.4">=10</tspan></text>
<line x1="1268.40" y1="134.10" x2="1354.50" y2="134.10" stroke="#515151" stroke-width="1.65" stroke-linecap="butt"/>
<rect x="1304.90" y="127.45" width="13.00" height="13.30" rx="0.8" fill="#515151"/>
<line x1="1268.40" y1="191.50" x2="1354.50" y2="191.50" stroke="#F14040" stroke-width="1.65" stroke-linecap="butt"/>
<ellipse cx="1311.40" cy="191.50" rx="7.45" ry="7.60" fill="#F14040"/>
<rect x="937.20" y="356.50" width="3.20" height="32.50" fill="#000"/>
</svg>
</body>
</html>
